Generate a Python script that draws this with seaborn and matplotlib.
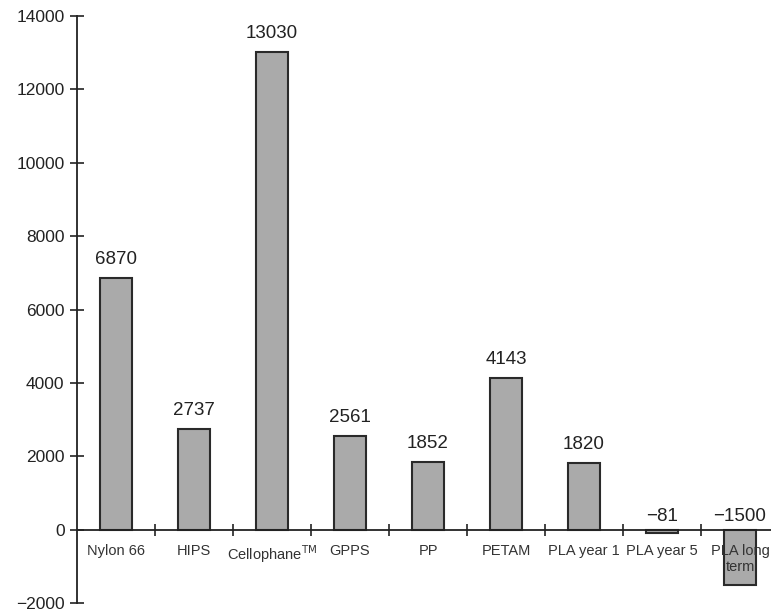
import matplotlib
matplotlib.use("Agg")
import matplotlib.pyplot as plt
import seaborn as sns
import numpy as np
from matplotlib.ticker import FixedLocator

sns.set_style("white")
plt.rcParams["font.family"] = ["Liberation Sans", "DejaVu Sans"]
plt.rcParams["axes.unicode_minus"] = True

# Materials and their values
categories = ["Nylon 66", "HIPS", "Cellophane$^{\\mathrm{TM}}$", "GPPS", "PP",
              "PETAM", "PLA year 1", "PLA year 5", "PLA long\nterm"]
values = [6870, 2737, 13030, 2561, 1852, 4143, 1820, -81, -1500]
y_ticks = [-2000, 0, 2000, 4000, 6000, 8000, 10000, 12000, 14000]

fig = plt.figure(figsize=(7.71, 6.11), dpi=100)
ax = fig.add_axes([77 / 771, 1 - 603 / 611, 1 - 77 / 771, (603 - 16) / 611])

order = list(range(len(categories)))
sns.barplot(x=order, y=values, ax=ax, color="#aaaaaa", saturation=1,
            edgecolor="#2a2a2a", linewidth=1.5, width=0.41)

ax.set_ylim(-2000, 14000)
ax.set_xlim(-0.5, -0.5 + (771 - 77) / 78)

# Value labels: above positive bars, above the zero line for negative ones
for i, v in enumerate(values):
    y = max(v, 0)
    off = 7 if v > 0 else 3
    ax.annotate(f"{v}".replace("-", "\u2212"), xy=(i, y), xytext=(0, off),
                textcoords="offset points", ha="center", va="bottom",
                fontsize=13.5, color="#222222")

# Axes styling
for s in ["top", "right", "bottom"]:
    ax.spines[s].set_visible(False)
ax.spines["left"].set_color("#222222")
ax.spines["left"].set_linewidth(1.3)
ax.axhline(0, color="#222222", lw=1.3, zorder=1)
ax.set_axisbelow(False)

ax.set_yticks(y_ticks)
ax.set_yticklabels([f"{t}".replace("-", "\u2212") for t in y_ticks])
ax.tick_params(axis="y", direction="inout", length=10, width=1.2,
               color="#222222", labelsize=12.5, labelcolor="#222222", pad=4, left=True)

ax.set_xticks(order)
ax.set_xticklabels(categories)
ax.xaxis.set_minor_locator(FixedLocator(np.arange(0.5, len(categories) - 0.5, 1)))
ax.tick_params(axis="x", which="major", length=0, labelsize=10.5, labelcolor="#333333")
ax.tick_params(axis="x", which="minor", direction="inout", length=9, width=1.2,
               color="#222222", bottom=True)
ax.xaxis.set_ticks_position("bottom")
ax.spines["bottom"].set_position(("data", 0))
ax.xaxis.set_tick_params(which="major", pad=10)
ax.set_xlabel("")
ax.set_ylabel("")

fig.savefig("out.png", dpi=100)
